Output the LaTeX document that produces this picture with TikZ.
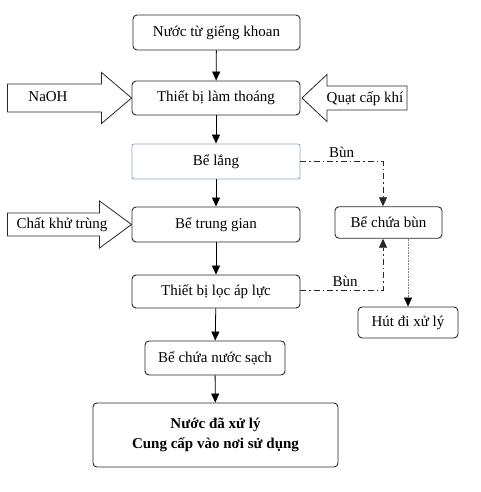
\documentclass[tikz,border=0pt]{standalone}
\usepackage{fontspec}
\setmainfont{Liberation Serif}
\usepackage{xcolor}
\usetikzlibrary{arrows.meta, calc}
\definecolor{lakeblue}{RGB}{140,165,200}
\definecolor{linegray}{RGB}{40,40,40}

\begin{document}
\begin{tikzpicture}[x=1pt, y=-1pt,
    every node/.style={font=\fontsize{15}{18}\selectfont},
    box/.style={draw=linegray, line width=0.9pt, rounded corners=4pt, inner sep=0pt, align=center},
    flow/.style={-{Triangle[length=9pt, width=8pt]}, line width=0.8pt, black},
    sludge/.style={-{Triangle[length=9pt, width=8pt]}, line width=0.7pt, linegray,
        dash pattern=on 6pt off 3pt on 1.5pt off 3pt},
    suck/.style={-{Triangle[length=9pt, width=8pt, color=black]}, line width=0.6pt, gray, densely dotted},
    feed/.style={draw=linegray, line width=0.8pt, fill=white}]
    \useasboundingbox (0,0) rectangle (480,492);

    % Main line
    \node[box, minimum width=167pt, minimum height=35pt] (src) at (216.5,32.5) {Nước từ giếng khoan};
    \node[box, minimum width=168pt, minimum height=34pt] (tlt) at (216,98) {Thiết bị làm thoáng};
    \node[box, draw=lakeblue, rounded corners=2pt, minimum width=168pt, minimum height=35pt] (lang) at (216,161.5) {Bể lắng};
    \node[box, minimum width=168pt, minimum height=35pt] (tg) at (216,224.5) {Bể trung gian};
    \node[box, minimum width=168pt, minimum height=33pt] (loc) at (216,291.5) {Thiết bị lọc áp lực};
    \node[box, minimum width=140pt, minimum height=34pt] (sach) at (215,358) {Bể chứa nước sạch};
    \node[box, font=\fontsize{15}{20}\selectfont\bfseries, minimum width=245pt, minimum height=64pt] (out) at (215.5,435)
        {Nước đã xử lý\\Cung cấp vào nơi sử dụng};

    % Sludge line
    \node[box, minimum width=107pt, minimum height=31.5pt] (cbun) at (388.5,222.5) {Bể chứa bùn};
    \node[box, minimum width=100pt, minimum height=31pt] (hut) at (408,322.5) {Hút đi xử lý};

    % Flow arrows
    \draw[flow] (src) -- (tlt);
    \draw[flow] (tlt) -- (lang);
    \draw[flow] (lang) -- (tg);
    \draw[flow] (tg) -- (loc);
    \draw[flow] (loc) -- (sach);
    \draw[flow] (sach) -- (out);

    % Sludge arrows
    \draw[sludge] (lang.east) -| ([xshift=-5.5pt]cbun.north) node[pos=0.25, above=0pt, black] (bun1) {Bùn};
    \draw[sludge] ([yshift=1.5pt]loc.east) -| ([xshift=-5.5pt]cbun.south) node[pos=0.27, above=0pt, black] (bun2) {Bùn};
    \draw[suck] (cbun.south -| hut.north) -- (hut.north);

    % Inputs (block arrows)
    \draw[feed] (tlt.west) -- ++(-30,-25.5) -- ++(0,11.5) -- ++(-94,0) -- ++(0,28) -- ++(94,0) -- ++(0,11.5) -- cycle;
    \node (naoh) at (48,97) {NaOH};
    \draw[feed] ([xshift=1.5pt]tlt.east) -- ++(25,-23.5) -- ++(0,11.5) -- ++(80,0) -- ++(0,24) -- ++(-80,0) -- ++(0,11.5) -- cycle;
    \node (quat) at (365,99) {Quạt cấp khí};
    \draw[feed] (tg.west) -- ++(-32,-23.5) -- ++(0,12) -- ++(-92,0) -- ++(0,23) -- ++(92,0) -- ++(0,12) -- cycle;
    \node (khutrung) at (62,224.5) {Chất khử trùng};
\end{tikzpicture}
\end{document}
